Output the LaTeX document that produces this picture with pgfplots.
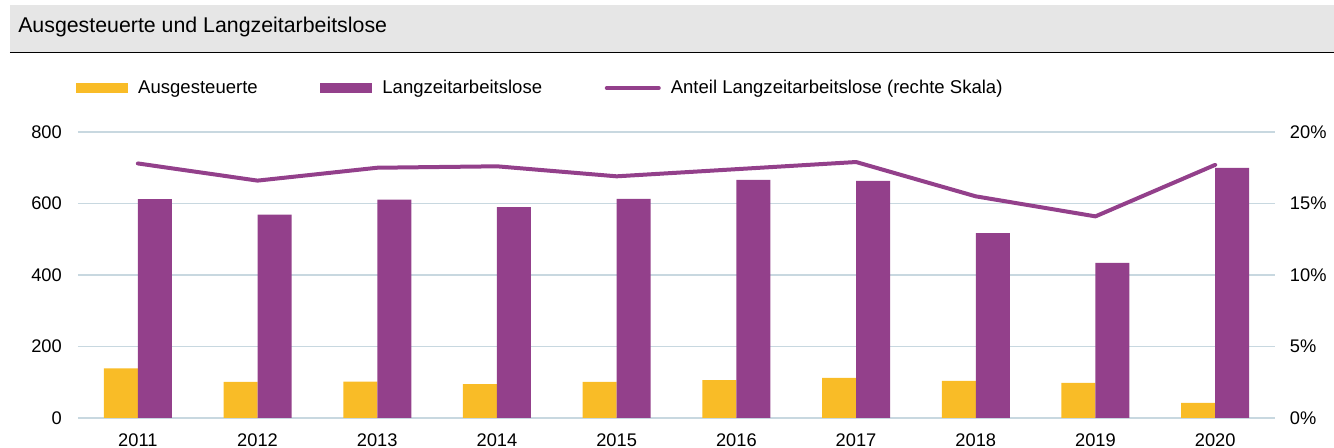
\documentclass[border=0pt]{standalone}
\usepackage{fontspec}
\setmainfont{Liberation Sans}
\usepackage{pgfplots}
\pgfplotsset{compat=1.18}
\definecolor{cyellow}{HTML}{F9BC27}
\definecolor{cpurple}{HTML}{93408B}
\definecolor{cgrid}{HTML}{C8D8E0}
\definecolor{cband}{HTML}{E6E6E6}
\pgfplotsset{lineleg/.style={legend image code/.code={\draw[cpurple, line width=3pt, line cap=round] (0pt,0pt) -- (39pt,0pt);}}}
\begin{document}
\begin{tikzpicture}[x=0.75pt,y=0.75pt]
\path[use as bounding box] (-78,-30) rectangle (1256,418);
\fill[cband] (-68,366) rectangle (1256,413);
\draw[line width=1.1pt] (-68,365.5) -- (1256,365.5);
\node[anchor=base west, inner sep=0pt, font=\fontsize{16}{19}\selectfont] at (-60,385.7) {Ausgesteuerte und Langzeitarbeitslose};
\begin{axis}[
  name=main,
  at={(0pt,0pt)}, anchor=south west,
  scale only axis, width=897.75pt, height=214.5pt,
  xmin=-0.5, xmax=9.5, ymin=0, ymax=800,
  ybar=0pt, bar width=25.5pt,
  xtick={0,...,9},
  xticklabels={2011,2012,2013,2014,2015,2016,2017,2018,2019,2020},
  ytick={0,200,400,600,800},
  ymajorgrids, grid style={cgrid, line width=0.8pt},
  axis line style={draw=none},
  tick style={draw=none},
  tick label style={font=\fontsize{13.7}{16}\selectfont},
  /pgf/number format/assume math mode=true,
  yticklabel style={inner sep=0pt, anchor=east, xshift=-12pt},
  xticklabel style={inner sep=0pt, anchor=north, yshift=-7pt},
  legend style={at={(-0.0017,1.1538)}, anchor=west, draw=none, fill=none,
    legend columns=3, inner xsep=0pt, inner ysep=0pt,
    font=\fontsize{13.9}{16}\selectfont,
    nodes={inner sep=0pt},
    /tikz/every odd column/.append style={column sep=7.5pt},
    /tikz/every even column/.append style={column sep=47pt}},
  legend image code/.code={\fill[#1] (0pt,-3.4pt) rectangle (39pt,3.4pt);},
]
\addplot[fill=cyellow, draw=none] coordinates {(0,139) (1,101) (2,102) (3,95) (4,101) (5,106) (6,112) (7,104) (8,98) (9,42)};
\addlegendentry{Ausgesteuerte}
\addplot[fill=cpurple, draw=none] coordinates {(0,612) (1,569) (2,611) (3,590) (4,613) (5,666) (6,663) (7,517) (8,434) (9,700)};
\addlegendentry{Langzeitarbeitslose}
\addlegendimage{lineleg}
\addlegendentry{Anteil Langzeitarbeitslose (rechte Skala)}
\end{axis}
\begin{axis}[
  at={(main.south west)}, anchor=south west,
  scale only axis, width=897.75pt, height=214.5pt,
  xmin=-0.5, xmax=9.5, ymin=0, ymax=20,
  axis y line*=right, axis x line=none,
  axis line style={draw=none},
  tick style={draw=none},
  ytick={0,5,10,15,20},
  yticklabel={\pgfmathprintnumber{\tick}\%},
  tick label style={font=\fontsize{13.7}{16}\selectfont},
  /pgf/number format/assume math mode=true,
  yticklabel style={inner sep=0pt, anchor=west, xshift=11pt},
]
\addplot[cpurple, line width=3pt, line join=round, line cap=round] coordinates {(0,17.8) (1,16.6) (2,17.5) (3,17.6) (4,16.9) (5,17.4) (6,17.9) (7,15.5) (8,14.1) (9,17.7)};
\end{axis}
\end{tikzpicture}
\end{document}
